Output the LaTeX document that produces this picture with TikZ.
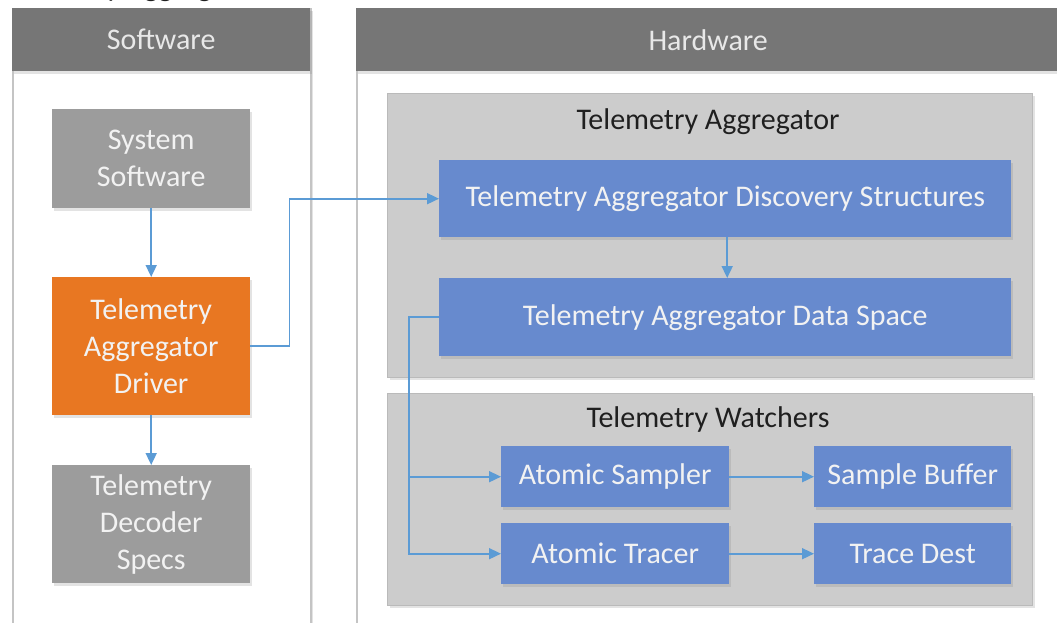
\documentclass[tikz,border=0pt]{standalone}
\usepackage{fontspec}
\setmainfont{Carlito}
\usetikzlibrary{arrows.meta,shadows,calc}
\definecolor{hdr}{RGB}{118,118,118}
\definecolor{hdrtxt}{RGB}{232,232,232}
\definecolor{pborder}{RGB}{196,196,196}
\definecolor{contfill}{RGB}{204,204,204}
\definecolor{contborder}{RGB}{186,186,186}
\definecolor{bluebox}{RGB}{103,138,206}
\definecolor{orangebox}{RGB}{232,119,34}
\definecolor{graybox}{RGB}{156,156,156}
\definecolor{boxtxt}{RGB}{242,242,242}
\definecolor{arrowc}{RGB}{91,155,213}
\begin{document}
\begin{tikzpicture}[x=1pt,y=-1pt,
  bigfont/.style={font=\fontsize{30}{37}\selectfont},
  shad/.style={drop shadow={opacity=0.22,shadow xshift=2pt,shadow yshift=-2.5pt}},
  panel/.style={draw=pborder,line width=1.6pt,fill=white,anchor=north west,inner sep=0pt,shad},
  hdrbox/.style={fill=hdr,text=hdrtxt,anchor=north west,inner sep=0pt,bigfont,shad},
  cont/.style={draw=contborder,line width=1pt,fill=contfill,anchor=north west,inner sep=0pt,shad},
  box/.style={anchor=north west,inner sep=0pt,text=boxtxt,bigfont,align=center,shad},
  bluenode/.style={box,fill=bluebox},
  orangenode/.style={box,fill=orangebox},
  graynode/.style={box,fill=graybox},
  ttl/.style={anchor=base,bigfont,text=black!88},
  arr/.style={draw=arrowc,line width=1.7pt,-{Triangle[length=12pt,width=11pt]}},
  ln/.style={draw=arrowc,line width=1.7pt}
]
\useasboundingbox (0,0) rectangle (1057,623);
\clip (0,0) rectangle (1057,623);
\fill[white] (0,0) rectangle (1057,623);

% clipped top title
\node[anchor=base west,bigfont,text=black!88,inner sep=0pt] (toptitle) at (-2,-3) {Telemetry Aggregator};

% panels
\node[panel,minimum width=298pt,minimum height=650pt] (swpanel) at (12,8) {};
\node[hdrbox,minimum width=298pt,minimum height=63pt] (swhdr) at (12,8) {Software};
\node[panel,minimum width=704pt,minimum height=650pt] (hwpanel) at (356,8) {};
\node[hdrbox,minimum width=704pt,minimum height=63pt] (hwhdr) at (356,8) {Hardware};

% software boxes
\node[graynode,minimum width=198pt,minimum height=99pt] (sys) at (52,109) {System\\Software};
\node[orangenode,minimum width=198pt,minimum height=138pt] (drv) at (52,277) {Telemetry\\Aggregator\\Driver};
\node[graynode,minimum width=198pt,minimum height=118pt] (dec) at (52,465) {Telemetry\\Decoder\\Specs};

% containers
\node[cont,minimum width=645pt,minimum height=284pt] (ta) at (387,93) {};
\node[ttl] (tatitle) at (708,129) {Telemetry Aggregator};
\node[cont,minimum width=645pt,minimum height=212pt] (tw) at (387,393) {};
\node[ttl] (twtitle) at (708,427) {Telemetry Watchers};

% hardware boxes
\node[bluenode,minimum width=572pt,minimum height=77pt] (disc) at (439,160) {Telemetry Aggregator Discovery Structures};
\node[bluenode,minimum width=572pt,minimum height=78pt] (data) at (439,278) {Telemetry Aggregator Data Space};
\node[bluenode,minimum width=228pt,minimum height=61pt] (asm) at (501,446) {Atomic Sampler};
\node[bluenode,minimum width=228pt,minimum height=61pt] (atr) at (501,523) {Atomic Tracer};
\node[bluenode,minimum width=197pt,minimum height=61pt] (sbuf) at (814,446) {Sample Buffer};
\node[bluenode,minimum width=197pt,minimum height=61pt] (tdest) at (814,523) {Trace Dest};

% connectors
\draw[arr] (sys.south) -- (drv.north);
\draw[arr] (drv.south) -- (dec.north);
\coordinate (dj) at ($(drv.east)+(39,0)$);
\draw[arr] (drv.east) -- (dj) |- (disc.west);
\draw[arr] ($(disc.south)+(2,0)$) -- ($(data.north)+(2,0)$);
\coordinate (bj) at ($(data.west)+(-30,0)$);
\draw[arr] (data.west) -- (bj) |- (atr.west);
\draw[arr] (bj) |- (asm.west);
\draw[arr] (asm.east) -- (sbuf.west);
\draw[arr] (atr.east) -- (tdest.west);
\end{tikzpicture}
\end{document}
